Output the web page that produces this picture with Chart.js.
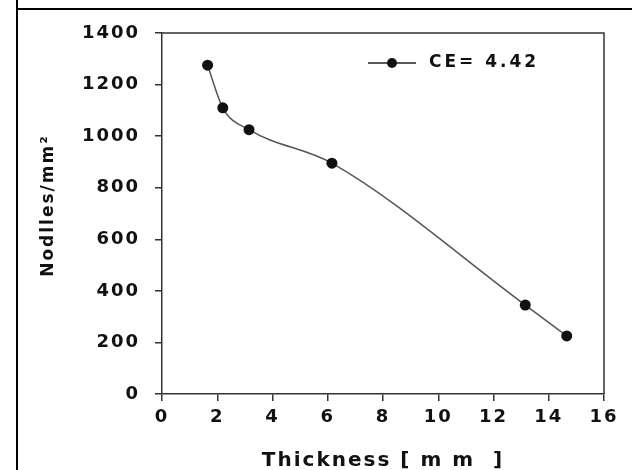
<!DOCTYPE html>
<html>
<head>
<meta charset="utf-8">
<script src="https://cdn.jsdelivr.net/npm/chart.js@4"></script>
<style>
  body { margin: 0; background: #fff; }
  #wrap { width: 632px; height: 470px; position: relative; }
</style>
</head>
<body>
<div id="wrap"><canvas id="chart" width="632" height="470"></canvas></div>
<script>
// datos
const thickness = [1.65, 2.2, 3.15, 6.15, 13.15, 14.65];
const nodules = [1275, 1110, 1025, 895, 345, 225];
const xTicks = [0, 2, 4, 6, 8, 10, 12, 14, 16];
const yTicks = [0, 200, 400, 600, 800, 1000, 1200, 1400];
const seriesLabel = "CE= 4.42";

const ink = "#111";
const axisColor = "#333";

// espaciado de letras (texto ancho como en el escaneo)
const spacingPlugin = {
  id: "spacing",
  beforeLayout(chart) { chart.ctx.letterSpacing = "2px"; },
  beforeDraw(chart) { chart.ctx.letterSpacing = "2px"; }
};

// marco exterior y caja del grafico + leyenda
const framePlugin = {
  id: "frame",
  afterDraw(chart) {
    const c = chart.ctx;
    const a = chart.chartArea;
    c.save();
    c.strokeStyle = "#000";
    c.lineWidth = 2;
    c.beginPath();
    c.moveTo(17, 0); c.lineTo(17, 470);
    c.moveTo(17, 9); c.lineTo(632, 9);
    c.stroke();
    c.strokeStyle = axisColor;
    c.lineWidth = 1.5;
    c.beginPath();
    c.moveTo(a.left, a.top); c.lineTo(a.right, a.top); c.lineTo(a.right, a.bottom);
    c.stroke();
    // leyenda
    const ly = 63;
    c.strokeStyle = "#222";
    c.lineWidth = 1.5;
    c.beginPath();
    c.moveTo(368, ly); c.lineTo(416, ly);
    c.stroke();
    c.fillStyle = ink;
    c.beginPath();
    c.arc(392, ly, 5, 0, Math.PI * 2);
    c.fill();
    c.font = "bold 17px 'DejaVu Sans'";
    c.letterSpacing = "3px";
    c.textBaseline = "middle";
    c.fillText(seriesLabel, 429, ly);
    c.restore();
  }
};

const canvas = document.getElementById("chart");

new Chart(canvas, {
  type: "scatter",
  data: {
    datasets: [{
      label: seriesLabel,
      data: thickness.map((x, i) => ({ x: x, y: nodules[i] })),
      showLine: true,
      cubicInterpolationMode: "monotone",
      borderColor: "#555",
      borderWidth: 1.5,
      pointRadius: 5.5,
      pointBackgroundColor: ink,
      pointBorderColor: ink,
      pointBorderWidth: 0
    }]
  },
  options: {
    responsive: false,
    animation: false,
    layout: { padding: { top: 33, right: 28, left: 0, bottom: 0 } },
    plugins: {
      legend: { display: false },
      tooltip: { enabled: false }
    },
    scales: {
      x: {
        type: "linear",
        min: 0, max: 16,
        afterBuildTicks: s => { s.ticks = xTicks.map(v => ({ value: v })); },
        afterFit: s => { s.height = 76; },
        grid: { drawOnChartArea: false, tickLength: 7, color: axisColor, lineWidth: 1.5 },
        border: { color: axisColor, width: 1.5 },
        ticks: {
          color: ink, padding: 6,
          font: { family: "DejaVu Sans", size: 18, weight: "bold" },
          callback: v => String(v)
        },
        title: {
          display: true,
          text: "Thickness [ m m  ]",
          color: ink,
          padding: { top: 0, bottom: -3 },
          font: { family: "DejaVu Sans", size: 20, weight: "bold" }
        }
      },
      y: {
        min: 0, max: 1400,
        afterBuildTicks: s => { s.ticks = yTicks.map(v => ({ value: v })); },
        afterFit: s => { s.width = 162; },
        grid: { drawOnChartArea: false, tickLength: 7, color: axisColor, lineWidth: 1.5 },
        border: { color: axisColor, width: 1.5 },
        ticks: {
          color: ink, padding: 15,
          font: { family: "DejaVu Sans", size: 18, weight: "bold" },
          callback: v => String(v)
        },
        title: {
          display: true,
          text: "  Nodlles/mm²",
          color: ink,
          padding: { top: 38, bottom: 0 },
          font: { family: "DejaVu Sans", size: 17, weight: "bold" }
        }
      }
    }
  },
  plugins: [spacingPlugin, framePlugin]
});
</script>
</body>
</html>
